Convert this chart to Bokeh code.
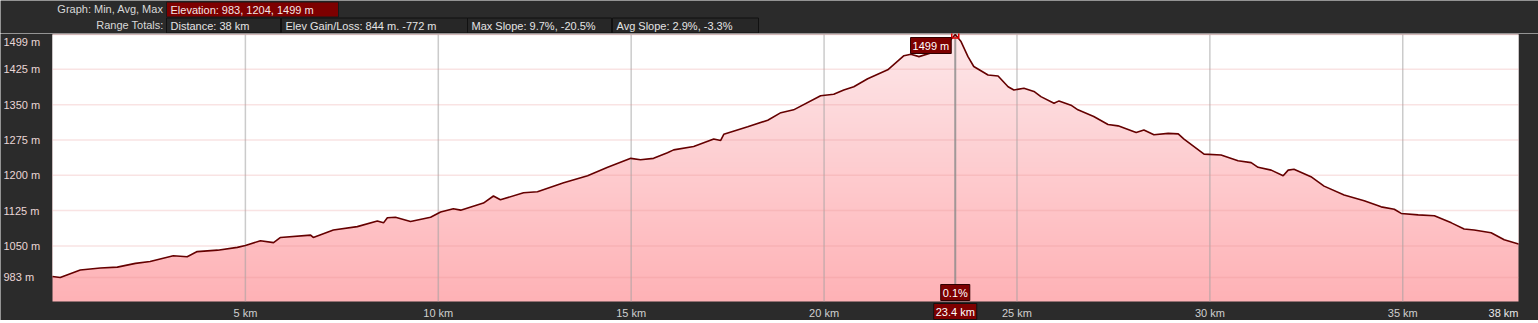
import numpy as np
from bokeh.plotting import figure
from bokeh.layouts import column
from bokeh.models import Range1d, Label
from bokeh.core.properties import value
from bokeh.embed import file_html
from bokeh.resources import INLINE

# ---------------- data ----------------
dist_km = [0.0, 0.20, 0.72, 1.24, 1.68, 2.15, 2.53, 3.13, 3.49, 3.75, 4.28, 4.79, 5.00,
           5.39, 5.73, 5.91, 6.69, 6.76, 7.28, 7.90, 8.42, 8.58, 8.68, 8.89, 9.28, 9.80,
           10.06, 10.39, 10.58, 11.17, 11.43, 11.61, 12.21, 12.57, 13.25, 13.87, 14.39,
           14.99, 15.24, 15.58, 15.94, 16.10, 16.62, 17.14, 17.32, 17.40, 18.02, 18.54,
           18.88, 19.21, 19.91, 20.25, 20.51, 20.77, 21.13, 21.65, 22.07, 22.25, 22.46,
           22.85, 23.20, 23.40, 23.55, 23.73, 23.88, 24.25, 24.51, 24.77, 24.92, 25.18,
           25.44, 25.62, 25.96, 26.09, 26.40, 26.58, 26.99, 27.36, 27.62, 28.09, 28.29,
           28.55, 28.92, 29.18, 29.33, 29.85, 30.29, 30.73, 31.07, 31.25, 31.59, 31.90,
           32.03, 32.18, 32.62, 32.96, 33.48, 34.00, 34.44, 34.78, 34.96, 35.40, 35.82,
           36.26, 36.59, 36.85, 37.29, 37.63, 38.0]
elev_m = [985, 983, 999, 1003, 1005, 1013, 1017, 1029, 1027, 1038, 1041, 1047, 1051,
          1061, 1057, 1068, 1073, 1068, 1084, 1091, 1103, 1099, 1110, 1111, 1102, 1111,
          1122, 1129, 1126, 1141, 1156, 1148, 1163, 1165, 1184, 1199, 1217,
          1236, 1233, 1236, 1248, 1254, 1261, 1277, 1274, 1287, 1303, 1317,
          1333, 1339, 1369, 1372, 1381, 1388, 1405, 1424, 1454, 1457, 1452,
          1462, 1480, 1499, 1484, 1452, 1431, 1413, 1411, 1388, 1381, 1385,
          1378, 1367, 1353, 1358, 1349, 1339, 1325, 1308, 1305, 1291, 1296,
          1286, 1289, 1288, 1277, 1245, 1243, 1231, 1227, 1217, 1211, 1199,
          1211, 1213, 1197, 1177, 1158, 1146, 1133, 1128, 1119, 1116, 1114,
          1099, 1086, 1084, 1078, 1063, 1054]

y_ticks = [983, 1050, 1125, 1200, 1275, 1350, 1425, 1499]
y_tick_labels = [f"{v} m" for v in y_ticks]
x_ticks = [5, 10, 15, 20, 25, 30, 35]
x_tick_labels = [f"{v} km" for v in x_ticks]
x_end_km = 38
cursor_km = 23.4
cursor_slope = "0.1%"
peak_elev = 1499
y_bottom = 932

header_row1 = ["Elevation: 983, 1204, 1499 m"]
header_row2 = ["Distance: 38 km", "Elev Gain/Loss: 844 m. -772 m",
               "Max Slope: 9.7%, -20.5%", "Avg Slope: 2.9%, -3.3%"]

BG = "#2b2b2b"
FONT = "Liberation Sans"
DARKRED = "#7d0000"
W = 1538

# ---------------- header ----------------
hdr = figure(width=W, height=33, x_range=Range1d(0, W), y_range=Range1d(33, 0),
             x_axis_type=None, y_axis_type=None, toolbar_location=None,
             output_backend="svg", min_border=0, min_border_left=0, min_border_right=0,
             min_border_top=0, min_border_bottom=0, background_fill_color=BG,
             border_fill_color=BG, outline_line_color=None)
hdr.grid.visible = False
hdr.text(x=[163, 163], y=[8.5, 24.5], text=["Graph: Min, Avg, Max", "Range Totals:"],
         text_align="right", text_baseline="middle", text_font=value(FONT),
         text_font_size="11px", text_color="#d8d8d8")
hdr.quad(left=[166], right=[338], top=[1.5], bottom=[16.5], fill_color=DARKRED,
         line_color="#1a1a1a", line_width=1)
hdr.text(x=[170], y=[9], text=header_row1, text_baseline="middle",
         text_font=value(FONT), text_font_size="11px", text_color="#f2e6e6")
lefts = [166, 281, 467, 612]
rights = [280, 467, 611, 758]
hdr.quad(left=lefts, right=rights, top=[17.5] * 4, bottom=[32.5] * 4, fill_color="#272727",
         line_color="#111111", line_width=1)
hdr.text(x=[l + 4 for l in lefts], y=[25] * 4, text=header_row2, text_baseline="middle",
         text_font=value(FONT), text_font_size="11px", text_color="#e4e4e4")

# ---------------- main plot ----------------
# plot area inside the 1538 x 287 canvas: left 52, right 20, top 1, bottom 19 px
PL, PR, PT, PB, H = 52, 20, 1, 19, 287
kx = (W - PL - PR) / x_end_km            # px per km
ky = (H - PT - PB) / (peak_elev - y_bottom)  # px per m
p = figure(width=W, height=H,
           x_range=Range1d(-PL / kx, x_end_km + PR / kx),
           y_range=Range1d(y_bottom - PB / ky, peak_elev + PT / ky),
           x_axis_type=None, y_axis_type=None, toolbar_location=None,
           output_backend="svg", min_border=0, min_border_left=0, min_border_right=0,
           min_border_top=0, min_border_bottom=0, background_fill_color=BG,
           border_fill_color=BG, outline_line_color=None)
p.grid.visible = False

# gradient fill of the plot area
N = 256
t = np.linspace(0, 1, N)
img = np.empty((N, 1), dtype=np.uint32)
view = img.view(dtype=np.uint8).reshape((N, 1, 4))
view[:, 0, 0] = (255 - 2 * t).astype(np.uint8)
view[:, 0, 1] = (178 + 54 * t).astype(np.uint8)
view[:, 0, 2] = (182 + 52 * t).astype(np.uint8)
view[:, 0, 3] = 255
p.image_rgba(image=[img], x=0, y=y_bottom, dw=x_end_km, dh=peak_elev - y_bottom)

# white above the profile
p.varea(x=dist_km, y1=elev_m, y2=[peak_elev] * len(elev_m), fill_color="white")

# grid lines
p.segment(x0=x_ticks, x1=x_ticks, y0=[y_bottom] * len(x_ticks), y1=[peak_elev] * len(x_ticks),
          line_color="#a0a0a0", line_alpha=0.55, line_width=1.5)
p.segment(x0=[0] * len(y_ticks), x1=[x_end_km] * len(y_ticks), y0=y_ticks, y1=y_ticks,
          line_color="#e89090", line_alpha=0.25, line_width=1.5)

# cursor line
p.segment(x0=[cursor_km], x1=[cursor_km], y0=[y_bottom], y1=[peak_elev],
          line_color="#8a8a8a", line_alpha=0.8, line_width=2)

# profile line
p.line(dist_km, elev_m, line_color="#650000", line_width=1.6)
p.scatter([cursor_km], [peak_elev], marker="square", size=7, fill_alpha=0,
          line_color="#e00000", line_width=1.5)

# y tick labels (left-aligned at the canvas edge)
for v, s in zip(y_ticks, y_tick_labels):
    p.add_layout(Label(x=0, y=v, x_offset=-(PL - 3), text=s, text_align="left",
                       text_baseline="middle", y_offset=-7 if v == peak_elev else 0,
                       text_font=FONT, text_font_size="11px", text_color="#ead6d6"))

# x tick labels
for v, s in zip(x_ticks, x_tick_labels):
    p.add_layout(Label(x=v, y=y_bottom, text=s, text_align="center", text_baseline="top",
                       y_offset=-5, text_font=FONT, text_font_size="11px",
                       text_color="#cfcfcf"))
p.add_layout(Label(x=x_end_km, y=y_bottom, text=f"{x_end_km} km", text_align="right",
                   text_baseline="top", y_offset=-5, text_font=FONT,
                   text_font_size="11px", text_color="#e8e8e8"))

# cursor labels
p.add_layout(Label(x=cursor_km, y=peak_elev, text=f"{peak_elev} m", text_align="right",
                   text_baseline="top", x_offset=-4, y_offset=-3, text_font=FONT,
                   text_font_size="11px", text_color="white",
                   background_fill_color=DARKRED, border_line_color="#300000",
                   padding=2))
p.add_layout(Label(x=cursor_km, y=y_bottom, text=cursor_slope, text_align="center",
                   text_baseline="bottom", y_offset=1, text_font=FONT,
                   text_font_size="11px", text_color="white",
                   background_fill_color=DARKRED, border_line_color="#300000",
                   padding=2))
p.add_layout(Label(x=cursor_km, y=y_bottom, text=f"{cursor_km} km", text_align="center",
                   text_baseline="top", y_offset=-2, text_font=FONT,
                   text_font_size="11px", text_color="white",
                   background_fill_color=DARKRED, border_line_color="#111111",
                   padding=2))

# ---------------- footer strip ----------------
ft = figure(width=W, height=3, x_range=Range1d(0, W), y_range=Range1d(0, 3),
            x_axis_type=None, y_axis_type=None, toolbar_location=None,
            output_backend="svg", min_border=0, min_border_left=0, min_border_right=0,
            min_border_top=0, min_border_bottom=0, background_fill_color="#34342f",
            border_fill_color="#34342f", outline_line_color=None)
ft.grid.visible = False
ft.quad(left=[322, 536], right=[485, 699], bottom=[0, 0], top=[3, 3],
        fill_color="#66665c", line_color=None)

layout = column(hdr, p, ft, spacing=0)
open("out.html", "w").write(file_html(layout, INLINE))
